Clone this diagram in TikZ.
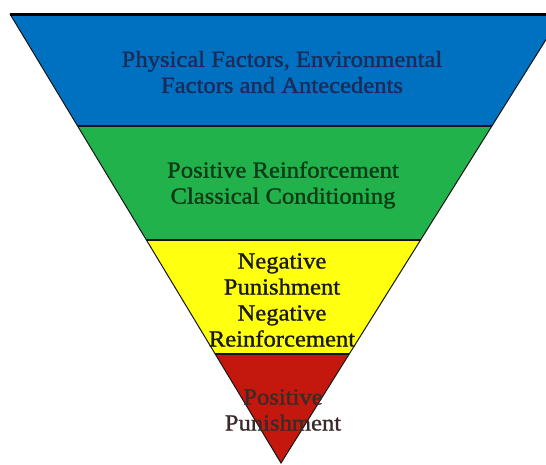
\documentclass[tikz,border=0pt]{standalone}
\usepackage{fontspec}
\setmainfont{Liberation Serif}[FakeStretch=1.07,FakeBold=1.2]
\usetikzlibrary{calc}
\definecolor{bandblue}{HTML}{0070C0}
\definecolor{bandgreen}{HTML}{22B24C}
\definecolor{bandyellow}{HTML}{FFFF10}
\definecolor{bandred}{HTML}{C4170E}
\definecolor{txtblue}{HTML}{1C2B58}
\definecolor{txtgreen}{HTML}{0E3A16}
\definecolor{txtyellow}{HTML}{1A1A0A}
\definecolor{txtred}{HTML}{3A2A2A}
\definecolor{edge}{HTML}{151515}
\begin{document}
\begin{tikzpicture}[x=1pt,y=-1pt,
  bandtext/.style={align=center,inner sep=0pt,font=\fontsize{23}{26}\selectfont},
  sepline/.style={draw=edge,line width=1.8pt},
  outline/.style={draw=edge,line width=1pt,line join=miter},
  topline/.style={draw=black,line width=3pt}]
\useasboundingbox (0,0) rectangle (546,464);
\clip (0,0) rectangle (546,464);
\coordinate (A) at (10,14);
\coordinate (B) at (562,14);
\coordinate (C) at (281,463);
\coordinate (L1) at ($(A)!0.2494!(C)$);
\coordinate (R1) at ($(B)!0.2494!(C)$);
\coordinate (L2) at ($(A)!0.5033!(C)$);
\coordinate (R2) at ($(B)!0.5033!(C)$);
\coordinate (L3) at ($(A)!0.7572!(C)$);
\coordinate (R3) at ($(B)!0.7572!(C)$);
\fill[bandblue] (A) -- (B) -- (R1) -- (L1) -- cycle;
\fill[bandgreen] (L1) -- (R1) -- (R2) -- (L2) -- cycle;
\fill[bandyellow] (L2) -- (R2) -- (R3) -- (L3) -- cycle;
\fill[bandred] (L3) -- (R3) -- (C) -- cycle;
\draw[sepline] (L1) -- (R1);
\draw[sepline] (L2) -- (R2);
\draw[sepline] (L3) -- (R3);
\draw[outline] (A) -- (C) -- (B);
\draw[topline] (A) -- (B);
\node[bandtext,text=txtblue] (t1) at (282,72) {Physical Factors, Environmental\\Factors and Antecedents};
\node[bandtext,text=txtgreen] (t2) at (283,185) {Positive Reinforcement\\Classical Conditioning};
\node[bandtext,text=txtyellow] (t3) at (282,300) {Negative\\Punishment\\Negative\\Reinforcement};
\node[bandtext,text=txtred] (t4) at (283,410) {Positive\\Punishment};
\end{tikzpicture}
\end{document}
